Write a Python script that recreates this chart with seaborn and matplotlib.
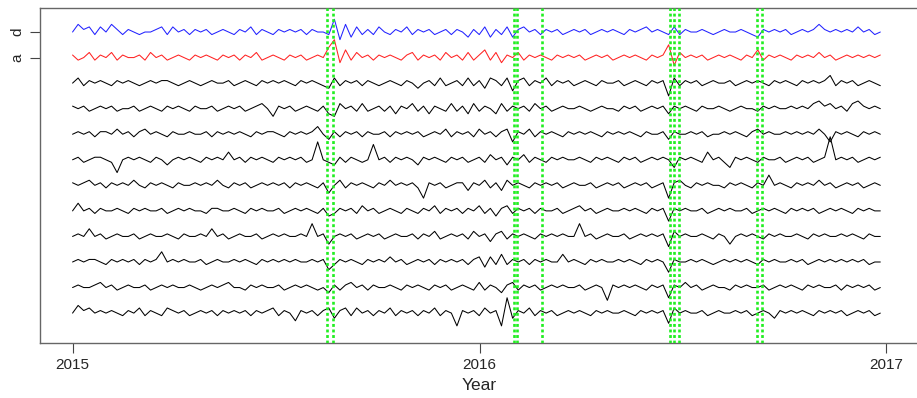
import numpy as np
import pandas as pd
import matplotlib
matplotlib.use("Agg")
import matplotlib.pyplot as plt
import seaborn as sns

# ---------------- data ----------------
START_YEAR = 2015
STEP_DAYS = 5
x_ticks = [2015, 2016, 2017]
x_label = "Year"
y_tick_labels = ["d", "a"]

series_d = [0, 3, 1, 2, -1, 2, 0, 3, 1, -1,
            1, 0, -1, 0, 0, 1, 2, -1, 2, 0,
            1, -1, 1, 0, 1, -1, 0, 1, 0, -1,
            1, 0, 2, -1, 1, 0, -1, 1, 0, 1,
            0, 1, -1, 1, 0, 0, -1, 5, -3, 3,
            -2, 2, -1, 1, -1, 2, 0, -1, 1, 0,
            2, -1, 1, 0, 1, -1, 0, 1, -1, 1,
            0, -2, 1, -1, 2, -2, 1, -1, 2, -2,
            1, 2, 0, 1, -1, 1, 0, 1, -1, 0,
            1, 0, 1, -1, 0, 1, 0, 1, 0, -1,
            1, 0, 1, 2, 0, 1, 0, -1, 2, -1,
            1, 0, 0, 1, 0, -1, 0, 1, 0, 0,
            1, 0, -1, -2, 1, 0, 1, 0, 1, -1,
            0, 1, 0, 1, 3, 1, 0, 1, 0, 1,
            0, 2, 0, 1, -1, 0]
series_a = [1, -1, 0, 2, -1, 1, 0, 2, -1, 1,
            0, 0, 1, -1, 2, 0, 1, -1, 0, 1,
            0, -1, 1, 0, 1, 0, -1, 1, 0, 1,
            -1, 1, 0, 2, -1, 0, 1, 0, -1, 1,
            0, 1, -1, 0, 1, 0, 4, 7, -2, 3,
            -1, 2, 0, 1, -1, 1, 0, 1, 0, -1,
            1, 2, -1, 1, 0, 1, -1, 2, 0, 1,
            -1, 2, -1, 1, 3, -1, 2, -2, 1, 0,
            2, -1, 1, 0, 1, 0, -1, 1, 0, 1,
            0, 1, -1, 0, 1, 0, 1, -1, 0, 1,
            0, 1, 0, -1, 1, 0, 1, 5, -3, 2,
            0, 1, 0, 1, -1, 0, 1, 0, 1, 0,
            -1, 1, 0, 3, -1, 1, 0, 1, 0, -1,
            1, 0, 1, 0, 2, 0, 1, -1, 0, 1,
            0, 1, 0, 1, 0, 1]
series_3 = [0, 2, -1, 1, 0, 1, 0, -1, 1, 0,
            1, 0, -1, 0, 1, 0, 1, 1, 0, -1,
            0, 1, 0, -1, 0, 1, 0, 0, 1, -1,
            0, 1, 0, -1, 1, 0, 1, 0, 1, 0,
            -1, 1, 0, 1, 0, -1, -2, 2, -1, 1,
            0, 1, -1, 1, 0, -1, 0, 1, 0, -1,
            1, 0, -2, 0, 1, -1, 2, -1, 0, 1,
            -1, 2, -1, 1, -2, 2, 1, -1, 2, -3,
            1, 2, -1, 1, 0, 2, -1, 1, 0, 1,
            -1, 0, 1, 0, -1, 1, 0, 0, 1, -1,
            0, 1, 0, -1, 1, 0, 1, -5, 2, -1,
            1, 0, 1, -1, 0, 1, 0, 0, 1, -1,
            0, 1, 0, 1, 0, -1, 1, 0, 1, 0,
            -1, 1, 0, 1, 0, 1, 3, -1, 1, 0,
            1, -1, 0, 1, 0, -1]
series_4 = [1, 0, 1, -1, 0, 1, 0, 1, -1, 0,
            0, 1, -1, 0, 1, 0, -1, 1, 0, 1,
            0, -1, 1, 0, 0, 1, -1, 0, 1, 0,
            1, -1, 0, 1, 2, 0, -3, 1, 0, 1,
            -1, 0, 1, 0, -1, 1, -2, -3, 2, 0,
            1, -1, 2, -1, 0, 1, -1, 1, -2, 1,
            0, 2, -1, 1, -2, 1, 0, -1, 2, -1,
            1, -2, 2, -1, 1, 0, -2, 2, -1, 1,
            0, 1, -1, 2, 0, 1, -1, 0, 1, 0,
            0, 1, 0, -1, 0, 1, 0, 0, -1, 1,
            0, 1, -1, 0, 1, 0, 1, -2, 1, 0,
            1, 0, -1, 1, 0, 0, 1, 0, -1, 0,
            1, 0, 0, -1, 1, 0, 1, 0, 0, 1,
            0, 1, 0, 2, 3, 1, 2, 0, 1, -1,
            2, 3, 1, 0, 1, 0]
series_5 = [0, 1, 0, 1, -1, 1, 1, 0, 2, 0,
            1, -1, 1, 2, 0, 1, 0, -1, 1, 0,
            0, 1, 0, 0, 1, -1, 1, 0, 1, 0,
            1, 0, -1, 1, 0, 1, 1, 0, -1, 1,
            0, 1, 0, 1, 3, 0, -2, 1, -1, 1,
            0, 1, -1, 1, 0, 0, 1, -1, 1, 0,
            1, 0, 1, -1, 0, 1, 0, 2, -1, 1,
            0, 1, -1, 2, 0, 1, -1, 1, 2, -3,
            1, 0, 2, -1, 1, 0, 1, 0, -1, 1,
            0, 1, 0, 1, 0, -1, 1, 0, 1, 0,
            1, 0, -1, 1, 0, 0, 1, -2, 1, 0,
            0, 1, 0, 1, -1, 0, 0, 1, 0, 1,
            0, -1, 1, 2, 0, 1, 0, 0, 1, 0,
            1, 0, 1, 0, 2, 0, -3, 1, 0, 1,
            0, -1, 1, 0, 1, 0]
series_6 = [0, 1, -1, 0, 1, 1, 0, -1, -5, 0,
            1, 0, 1, 0, -1, 1, 0, -2, 0, 1,
            0, 1, 0, -1, 1, 0, 1, 0, 3, 0,
            1, -1, 1, 0, 1, 0, -1, 1, 0, 1,
            0, 1, -1, 0, 7, 0, -1, -2, 1, -1,
            1, 0, -1, 0, 6, 0, 1, -1, 1, 0,
            1, 0, -2, 1, 0, 1, 0, -1, 1, 0,
            1, -1, 0, 1, -1, 2, 0, 1, -2, 1,
            0, 2, -1, 1, 0, -1, 1, 0, 1, 0,
            0, 1, 0, -1, 1, 0, 1, 0, -1, 1,
            0, 1, -1, 0, 1, 0, 1, 0, -3, 1,
            0, 1, 0, -1, 3, 0, 1, -1, -3, 1,
            0, 1, 0, -1, 1, 0, 0, 1, -1, 0,
            1, 0, 1, -1, 0, 1, 9, 0, 1, 0,
            1, -1, 0, 1, 0, 1]
series_7 = [1, 0, 1, 2, 0, 1, -1, 1, 0, 1,
            0, 2, 0, -1, 1, 0, 1, 0, -1, 1,
            0, 0, 1, 0, 1, 0, 2, 0, -1, 1,
            0, 1, -1, 0, 1, 0, 1, 0, 1, -1,
            1, 0, 1, 0, -1, 1, -3, 0, 2, -1,
            1, 0, 1, 0, -1, 1, 0, 2, 0, 1,
            0, 1, -1, -5, 1, 0, 1, -1, 0, 1,
            1, -2, 1, 0, 2, -1, 1, -2, 2, 0,
            1, 0, -1, 1, 0, 1, 0, 1, -1, 0,
            1, 0, 0, 1, -1, 0, 1, 0, 1, -1,
            0, 1, 0, 1, -1, 0, 1, -5, 1, 2,
            0, -1, 1, 0, 1, 0, 0, -1, 1, 0,
            1, 0, -1, 1, 0, 4, 0, 1, 0, -1,
            1, 0, 1, 0, 2, 0, 1, -1, 0, 1,
            0, 1, -1, 0, 1, 0]
series_8 = [0, 3, 0, 1, -1, 1, 0, 0, 1, 0,
            -1, 1, 0, 1, 0, 0, 1, -1, 0, 1,
            0, 1, 0, 0, -1, 1, 1, 0, 0, 1,
            0, -1, 1, 0, 1, 0, 0, 1, -1, 0,
            1, 0, 1, 0, -1, 1, -2, -1, 1, 0,
            1, -1, 2, 0, 1, -1, 0, 1, 0, -1,
            1, 0, -1, 1, 0, 2, -1, 1, 0, 1,
            -1, 1, 0, 2, -1, 1, -2, 1, 2, -1,
            1, 0, 1, -1, 1, 0, 0, 1, -1, 0,
            1, 2, 0, 1, -1, 0, 1, 0, 0, 1,
            0, 1, 0, -1, 1, 0, 1, -4, 1, 0,
            1, 0, 0, 1, -1, 0, 1, 0, 1, 0,
            0, 1, -1, 0, 1, 0, 1, 0, -1, 1,
            0, 1, 0, 1, -1, 0, 1, 0, 1, 0,
            -1, 1, 0, 1, 0, 0]
series_9 = [0, 1, 0, 3, 0, 1, -1, 0, 1, 0,
            0, 1, -1, 0, 1, 0, 0, 1, 0, -1,
            1, 0, 0, 1, 0, 3, 0, 1, -1, 0,
            1, 0, 0, 1, -1, 0, 1, 0, 1, 0,
            0, 1, 0, 5, 0, 1, -3, 0, 1, 0,
            1, -1, 0, 1, 0, 1, -1, 0, 1, 0,
            0, 1, -1, 1, 0, 2, -1, 0, 1, 0,
            1, -1, 2, 0, 1, -2, 1, 2, -1, 1,
            0, 1, 0, -1, 1, 0, 1, 0, 1, 0,
            0, 5, 0, 1, -1, 0, 1, 0, 0, 1,
            -1, 0, 1, 0, 1, 0, 1, -4, 2, 0,
            1, 0, 0, 1, 0, -1, 1, 0, -3, 0,
            1, 0, 1, 0, -1, 1, 0, 1, 0, 0,
            1, 0, -1, 1, 0, 1, 0, 0, 1, 0,
            1, 0, -1, 1, 0, 0]
series_10 = [0, 1, 0, 1, 1, 0, -1, 1, 0, 1,
             0, 1, -1, 1, 0, 1, 4, 0, 1, 0,
             1, 0, 0, 1, -1, 0, 1, 0, 0, 1,
             0, 1, 0, -1, 1, 0, 1, 0, 1, 0,
             1, 0, 0, 1, 0, 1, -3, -1, 1, 0,
             1, 0, -1, 1, 0, 1, 0, 2, 0, 1,
             -1, 0, 1, 0, 1, -1, 1, 0, 1, 0,
             1, -1, 1, 2, -2, 2, -1, 3, -1, 1,
             0, 1, -1, 1, 0, 1, 0, 0, 3, 0,
             1, 0, -1, 1, 0, 1, 0, 0, 1, 0,
             1, 0, -1, 1, 0, 1, 0, -4, 1, 0,
             0, 1, 0, 1, 0, -1, 0, 1, 0, 1,
             0, 1, 0, -1, 1, 0, 1, 0, 0, 1,
             0, 1, -1, 0, 1, 0, 1, 0, 1, 0,
             1, 0, 1, -1, 0, 0]
series_11 = [0, 1, 0, 0, 1, 2, 0, 1, -1, 0,
             1, 0, 0, 1, -1, 0, 1, 0, 1, 0,
             0, 1, 0, -1, 0, 1, 0, 1, 2, 0,
             0, -1, 1, 0, 1, 0, 0, 1, -1, 0,
             1, 0, 1, 0, -1, 0, -2, 1, -1, 1,
             2, 0, 1, -1, 1, 0, 0, 1, 0, -1,
             1, 0, 1, 0, -1, 1, 0, 1, -1, 0,
             1, 0, -1, 2, -1, 1, 0, -2, 1, 2,
             -1, 1, 0, 1, -1, 0, 1, 0, 1, 0,
             0, 1, -1, 0, 1, 0, -5, 1, 0, 1,
             0, 1, 0, -1, 1, 0, 1, -4, 1, 0,
             2, 0, 1, -1, 0, 1, 0, 0, -1, 1,
             0, 1, 0, 0, 1, -1, 0, 1, 0, 1,
             0, -1, 1, 0, 1, 0, 0, 1, -1, 1,
             0, 1, 0, 1, -1, 0]
series_12 = [0, 3, 1, 2, 0, 1, 0, 1, 0, -1,
             1, 0, 2, -1, 1, 0, -1, 2, 1, 0,
             1, -1, 0, 1, 0, 1, -1, 1, 0, 1,
             0, 1, -1, 1, 0, 1, 2, -1, 1, 0,
             -3, 1, 0, 1, -1, 1, 2, -2, 1, 2,
             -1, 2, 0, 1, -1, 1, 0, 2, -1, 1,
             0, 1, -1, 1, 0, 2, -1, 1, 0, -5,
             1, 0, 1, -1, 2, 0, 1, -5, 6, -2,
             1, 0, 2, -1, 1, 0, 1, -1, 0, 1,
             0, 1, 0, -1, 1, 0, 1, 0, 0, 1,
             0, -1, 1, 0, 1, 0, 1, -4, 2, 0,
             1, 0, 0, 1, -1, 0, 1, 0, 0, 1,
             0, 1, -1, 0, 1, 0, -2, 1, 0, 1,
             0, 1, 0, -1, 1, 0, 1, 0, 1, -1,
             0, 1, 0, 1, -1, 0]

series_colors = ["#2222ff", "#ff2222"] + ["black"] * 10
event_years = [2015.626, 2015.640, 2016.084, 2016.093, 2016.154,
               2016.468, 2016.478, 2016.490, 2016.682, 2016.693]

all_series = [series_d, series_a, series_3, series_4, series_5, series_6,
              series_7, series_8, series_9, series_10, series_11, series_12]

# ---------------- plot ----------------
sns.set_theme(style="white")
plt.rcParams["font.family"] = ["Liberation Sans", "DejaVu Sans"]

ROW_GAP = 10.0
n_rows = len(all_series)

fig = plt.figure(figsize=(9.17, 3.98), dpi=100)
ax = fig.add_axes([40 / 917, 55 / 398, 879 / 917, 335 / 398])

for k, (vals, col) in enumerate(zip(all_series, series_colors)):
    offset = (n_rows - 1 - k) * ROW_GAP
    df = pd.DataFrame({
        "year": START_YEAR + np.arange(len(vals)) * STEP_DAYS / 365.25,
        "value": offset + np.asarray(vals, dtype=float),
    })
    sns.lineplot(data=df, x="year", y="value", color=col, lw=0.75,
                 estimator=None, sort=False, ax=ax)

for g in event_years:
    ax.axvline(g, color="#22ee22", lw=1.9, ls=(0, (1.1, 1.0)), zorder=5)

ax.set_xlim(2015 - 0.08, 2017 + 0.08)
ax.set_ylim(-1.17 * ROW_GAP, (n_rows - 1 + 0.94) * ROW_GAP)
ax.set_xticks(x_ticks)
ax.set_xticklabels([str(t) for t in x_ticks], fontsize=11)
ax.set_yticks([(n_rows - 1) * ROW_GAP, (n_rows - 2) * ROW_GAP])
ax.set_yticklabels(y_tick_labels, fontsize=11, rotation=90, va="center")
ax.tick_params(axis="both", direction="out", length=7, width=0.8,
               color="#444444", pad=4, bottom=True, left=True)
ax.set_xlabel(x_label, fontsize=12.5, labelpad=4)
ax.set_ylabel("")
for s in ax.spines.values():
    s.set_color("#666666")
    s.set_linewidth(1.0)
ax.grid(False)

fig.savefig("out.png", dpi=100)
